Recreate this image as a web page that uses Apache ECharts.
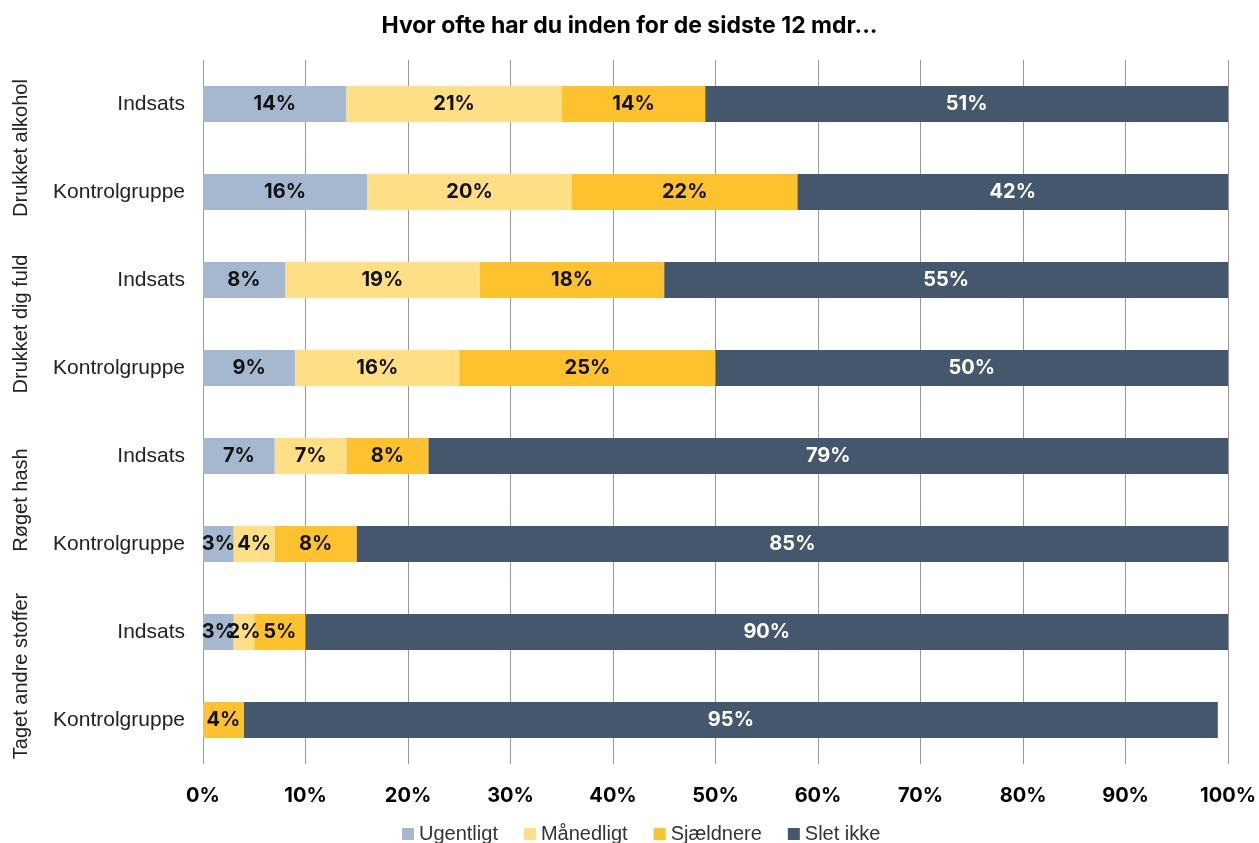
<!DOCTYPE html>
<html>
<head>
<meta charset="utf-8">
<script src="https://cdn.jsdelivr.net/npm/echarts@6/dist/echarts.min.js"></script>
<style>
html, body { margin: 0; padding: 0; background: #fff; }
#chart { width: 1259px; height: 843px; }
</style>
</head>
<body>
<div id="chart"></div>
<script>
// kategorier (oppefra og ned)
var rows = ['Indsats', 'Kontrolgruppe', 'Indsats', 'Kontrolgruppe', 'Indsats', 'Kontrolgruppe', 'Indsats', 'Kontrolgruppe'];
var groups = ['Drukket alkohol', 'Drukket dig fuld', 'Røget hash', 'Taget andre stoffer'];
var seriesNames = ['Ugentligt', 'Månedligt', 'Sjældnere', 'Slet ikke'];

// værdier i procent
var ugentligt = [14, 16, 8, 9, 7, 3, 3, 0];
var maanedligt = [21, 20, 19, 16, 7, 4, 2, 0];
var sjaeldnere = [14, 22, 18, 25, 8, 8, 5, 4];
var sletIkke = [51, 42, 55, 50, 79, 85, 90, 95];

var ticks = [0, 10, 20, 30, 40, 50, 60, 70, 80, 90, 100];

var colors = ['#a5b8cf', '#fedf86', '#fec22e', '#44576c'];
var labelColors = ['#111', '#111', '#111', '#fff'];

var myChart = echarts.init(document.getElementById('chart'));

var allData = [ugentligt, maanedligt, sjaeldnere, sletIkke];
var series = [];
for (var i = 0; i < seriesNames.length; i++) {
    series.push({
        name: seriesNames[i],
        type: 'bar',
        stack: 'total',
        barWidth: 36,
        clip: true,
        data: allData[i],
        itemStyle: { color: colors[i] },
        label: {
            show: true,
            position: 'inside',
            color: labelColors[i],
            fontFamily: 'Inter',
            fontWeight: 'bold',
            fontSize: 20,
            formatter: function (p) {
                return p.value > 0 ? p.value + '%' : '';
            }
        }
    });
}

var option = {
    animation: false,
    title: {
        text: 'Hvor ofte har du inden for de sidste 12 mdr...',
        left: 'center',
        top: 10,
        textStyle: {
            fontFamily: 'Inter',
            fontWeight: 'bold',
            fontSize: 23,
            color: '#000'
        }
    },
    legend: {
        bottom: -6,
        left: 397,
        itemWidth: 12,
        itemHeight: 12,
        itemGap: 26,
        icon: 'rect',
        data: seriesNames,
        textStyle: {
            fontFamily: 'Liberation Sans',
            fontSize: 20,
            color: '#333'
        }
    },
    grid: {
        left: 203,
        right: 30,
        top: 60,
        bottom: 79,
        containLabel: false
    },
    xAxis: {
        type: 'value',
        min: 0,
        max: 100,
        interval: 10,
        axisLine: { show: false },
        axisTick: { show: false },
        splitLine: { show: true, lineStyle: { color: '#999', width: 1 } },
        axisLabel: {
            margin: 22,
            fontFamily: 'Inter',
            fontWeight: 'bold',
            fontSize: 20,
            color: '#000',
            formatter: function (v) {
                return ticks.indexOf(v) >= 0 ? v + '%' : '';
            }
        }
    },
    yAxis: [{
        type: 'category',
        inverse: true,
        data: rows,
        axisLine: { show: false },
        axisTick: { show: false },
        axisLabel: {
            margin: 18,
            fontFamily: 'Liberation Sans',
            fontSize: 21,
            color: '#222'
        }
    }, {
        type: 'category',
        inverse: true,
        position: 'left',
        offset: 172,
        data: groups,
        axisLine: { show: false },
        axisTick: { show: false },
        axisLabel: {
            interval: 0,
            rotate: 90,
            margin: 0,
            fontFamily: 'Liberation Sans',
            fontSize: 20,
            color: '#222'
        }
    }],
    series: series
};

myChart.setOption(option);
</script>
</body>
</html>
